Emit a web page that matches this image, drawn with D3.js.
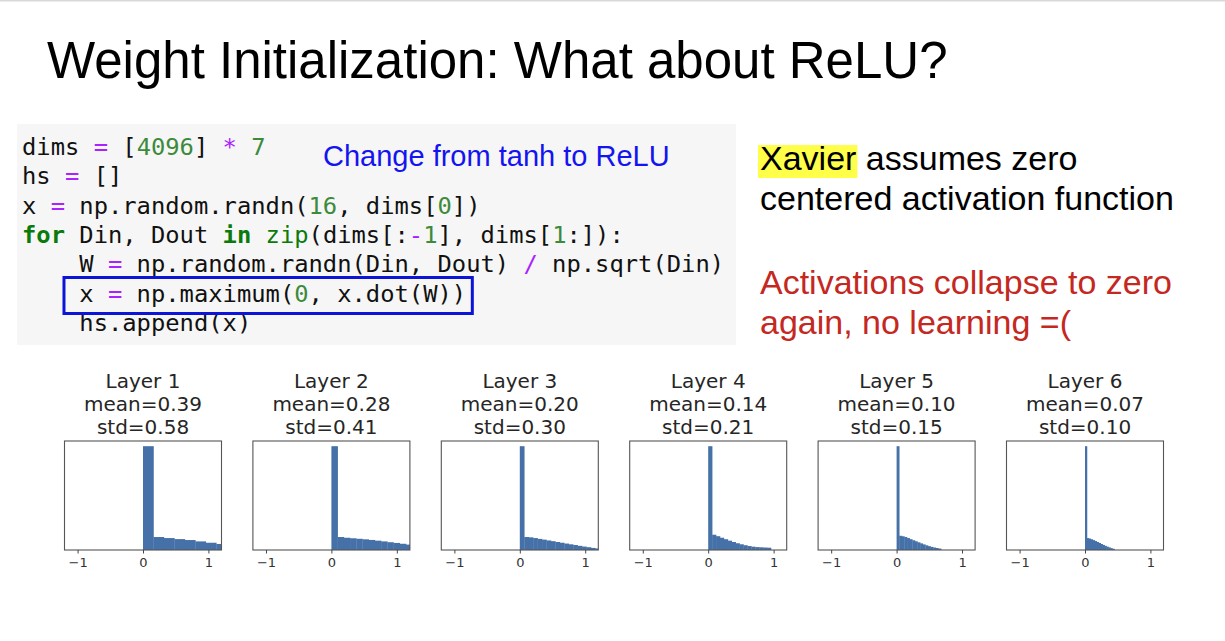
<!DOCTYPE html>
<html>
<head>
<meta charset="utf-8">
<script src="https://cdn.jsdelivr.net/npm/d3@7"></script>
<style>
  body { margin: 0; background: #fff; }
  svg { display: block; }
</style>
</head>
<body>
<script>
// per-layer stats
const layerNames = ["Layer 1", "Layer 2", "Layer 3", "Layer 4", "Layer 5", "Layer 6"];
const layerMeans = [0.39, 0.28, 0.20, 0.14, 0.10, 0.07];
const layerStds  = [0.58, 0.41, 0.30, 0.21, 0.15, 0.10];

// histogram bin widths (in activation units) and relative bin heights (first bin = spike at 0)
const binWidths = [0.16, 0.095, 0.068, 0.06, 0.04, 0.03];
const binHeights = [
  [1, .125, .115, .105, .096, .083, .070, .058],
  [1, .125, .118, .113, .108, .103, .097, .090, .083, .075, .068, .060, .052],
  [1, .125, .122, .115, .107, .100, .092, .085, .077, .070, .062, .055, .048, .040, .033, .027, .020, .015, .012],
  [1, .147, .133, .118, .104, .090, .077, .065, .055, .046, .038, .032, .028, .026, .024, .022],
  [1, .137, .132, .125, .115, .104, .094, .084, .074, .064, .054, .045, .037, .030, .024, .019, .014],
  [1, .115, .110, .103, .095, .086, .077, .068, .058, .049, .040, .032, .025, .018, .012]
];
const xTicks = [-1, 0, 1];
const xDomain = [-1.2, 1.2];

const codeLines = [
  "dims = [4096] * 7",
  "hs = []",
  "x = np.random.randn(16, dims[0])",
  "for Din, Dout in zip(dims[:-1], dims[1:]):",
  "    W = np.random.randn(Din, Dout) / np.sqrt(Din)",
  "    x = np.maximum(0, x.dot(W))",
  "    hs.append(x)"
];

const width = 1225, height = 641;
const sans = "'Liberation Sans', Arial, sans-serif";
const mono = "'DejaVu Sans Mono', monospace";

const svg = d3.select("body").append("svg")
  .attr("width", width)
  .attr("height", height);

svg.append("rect").attr("width", width).attr("height", height).attr("fill", "#fff");
svg.append("line").attr("x1", 0).attr("x2", width).attr("y1", 0.5).attr("y2", 0.5)
  .attr("stroke", "#d9d9d9").attr("stroke-width", 2);

// title
svg.append("text")
  .attr("x", 47).attr("y", 78)
  .style("font", `51px ${sans}`)
  .attr("fill", "#000")
  .text("Weight Initialization: What about ReLU?");

// code block
svg.append("rect")
  .attr("x", 17).attr("y", 124).attr("width", 719).attr("height", 221)
  .attr("fill", "#f6f6f6");

const codeSize = 23.8, charW = codeSize * 0.602, codeX = 22;
const lineY = i => 155 + i * 29.3;

function tokenize(line) {
  const re = /\b(?:for|in)\b|\bzip\b|\d+|[=*\/-]/g;
  let out = [], last = 0;
  for (const m of line.matchAll(re)) {
    if (m.index > last) out.push({t: line.slice(last, m.index), c: "plain"});
    let c;
    if (m[0] === "for" || m[0] === "in") c = "kw";
    else if (m[0] === "zip") c = "builtin";
    else if (/\d/.test(m[0])) c = "num";
    else c = "op";
    out.push({t: m[0], c: c});
    last = m.index + m[0].length;
  }
  if (last < line.length) out.push({t: line.slice(last), c: "plain"});
  return out;
}
const tokColor = {plain: "#111", kw: "#0a7a0a", builtin: "#0a7a0a", num: "#3c8a3c", op: "#aa22ff"};

const code = svg.append("g").style("font", `${codeSize}px ${mono}`);
codeLines.forEach(function(line, i) {
  code.append("text")
    .attr("x", codeX).attr("y", lineY(i))
    .style("white-space", "pre")
    .selectAll("tspan")
    .data(tokenize(line))
    .join("tspan")
      .attr("fill", d => tokColor[d.c])
      .style("font-weight", d => d.c === "kw" ? "bold" : null)
      .text(d => d.t);
});

// highlight box around the ReLU line
svg.append("rect")
  .attr("x", codeX + 3 * charW - 1)
  .attr("y", lineY(5) - 24)
  .attr("width", 28.5 * charW)
  .attr("height", 36)
  .attr("fill", "none")
  .attr("stroke", "#0c14d8")
  .attr("stroke-width", 3);

svg.append("text")
  .attr("x", 323).attr("y", 166)
  .style("font", `29px ${sans}`)
  .attr("fill", "#1414f0")
  .text("Change from tanh to ReLU");

// right-hand notes
const noteSize = 34;
const xavBg = svg.append("rect");
const xav = svg.append("text")
  .attr("x", 760).attr("y", 170)
  .style("font", `${noteSize}px ${sans}`)
  .attr("fill", "#000");
xav.append("tspan").text("Xavier");
xav.append("tspan").text(" assumes zero");
const xavW = xav.node().getSubStringLength(0, 6);
xavBg
  .attr("x", 758).attr("y", 145)
  .attr("width", xavW + 3).attr("height", 33)
  .attr("fill", "#ffff4a");

svg.append("text")
  .attr("x", 760).attr("y", 210)
  .style("font", `${noteSize}px ${sans}`)
  .attr("fill", "#000")
  .text("centered activation function");

svg.append("text")
  .attr("x", 760).attr("y", 294)
  .style("font", `${noteSize}px ${sans}`)
  .attr("fill", "#c4281f")
  .text("Activations collapse to zero");
svg.append("text")
  .attr("x", 760).attr("y", 334)
  .style("font", `${noteSize}px ${sans}`)
  .attr("fill", "#c4281f")
  .text("again, no learning =(");

// histograms
const panelLeft = 64.5, panelStep = 188.4, panelW = 157,
      panelTop = 441, panelH = 109;
const barColor = "#4671a8";

layerNames.forEach(function(name, i) {
  const left = panelLeft + i * panelStep;
  const x = d3.scaleLinear().domain(xDomain).range([left, left + panelW]);
  const maxH = d3.max(binHeights[i]);
  const y = d3.scaleLinear().domain([0, maxH * 1.05]).range([panelTop + panelH, panelTop]);

  const g = svg.append("g");

  g.append("clipPath").attr("id", "clip" + i)
    .append("rect")
      .attr("x", left).attr("y", panelTop)
      .attr("width", panelW).attr("height", panelH);

  const bins = binHeights[i].map((h, k) => ({x0: k * binWidths[i], x1: (k + 1) * binWidths[i], h: h}));

  g.append("g")
    .attr("clip-path", `url(#clip${i})`)
    .selectAll("rect")
    .data(bins)
    .join("rect")
      .attr("x", d => x(d.x0))
      .attr("width", d => x(d.x1) - x(d.x0) + 0.3)
      .attr("y", d => y(d.h))
      .attr("height", d => y(0) - y(d.h))
      .attr("fill", barColor);

  g.append("rect")
    .attr("x", left).attr("y", panelTop)
    .attr("width", panelW).attr("height", panelH)
    .attr("fill", "none")
    .attr("stroke", "#555")
    .attr("stroke-width", 1.1);

  const axis = g.append("g")
    .attr("transform", `translate(0,${panelTop + panelH})`)
    .call(d3.axisBottom(x).tickValues(xTicks).tickSize(3.5).tickPadding(4).tickFormat(d3.format("d")));
  axis.select(".domain").remove();
  axis.selectAll(".tick line").attr("stroke", "#444");
  axis.selectAll(".tick text")
    .attr("fill", "#333")
    .style("font", "13px 'DejaVu Sans', sans-serif");

  const cx = left + panelW / 2;
  const titleLines = [name, `mean=${layerMeans[i].toFixed(2)}`, `std=${layerStds[i].toFixed(2)}`];
  g.selectAll(".ttl")
    .data(titleLines)
    .join("text")
      .attr("class", "ttl")
      .attr("x", cx)
      .attr("y", (d, k) => 388 + k * 23)
      .attr("text-anchor", "middle")
      .attr("fill", "#262626")
      .style("font", "20px 'DejaVu Sans', sans-serif")
      .text(d => d);
});
</script>
</body>
</html>
